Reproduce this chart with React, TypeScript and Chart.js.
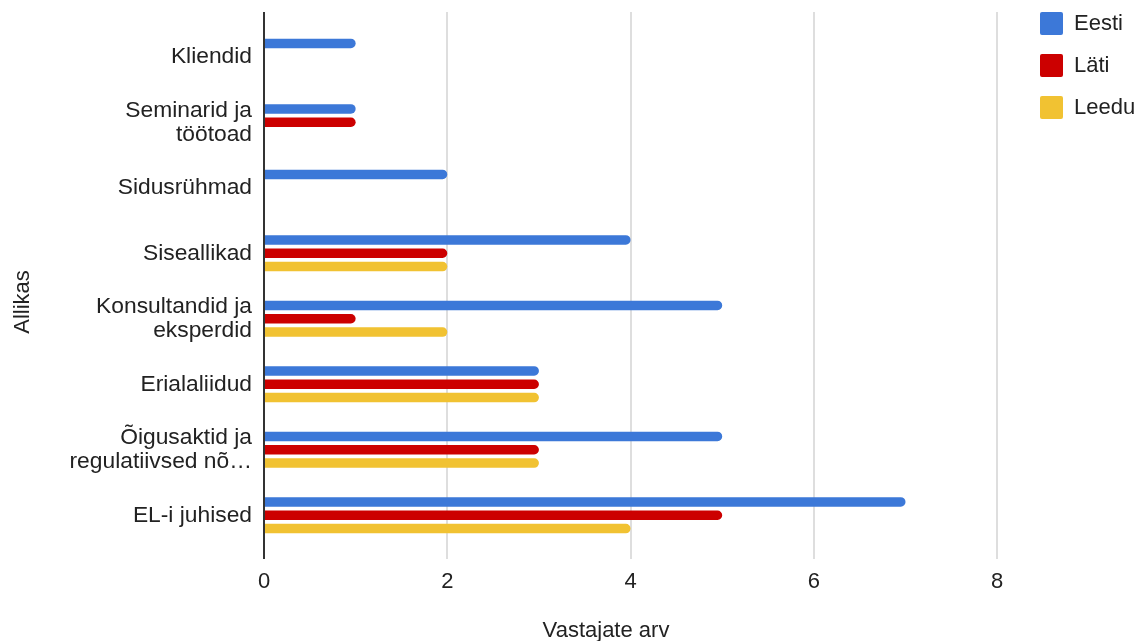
import React, { useEffect, useRef } from "react";
import { Chart, registerables } from "chart.js";

Chart.register(...registerables);

const categories: (string | string[])[] = [
  "Kliendid",
  ["Seminarid ja", "töötoad"],
  "Sidusrühmad",
  "Siseallikad",
  ["Konsultandid ja", "eksperdid"],
  "Erialaliidud",
  ["Õigusaktid ja", "regulatiivsed nõ…"],
  "EL-i juhised",
];

const seriesNames = ["Eesti", "Läti", "Leedu"];
const eesti: (number | null)[] = [1, 1, 2, 4, 5, 3, 5, 7];
const lati: (number | null)[] = [null, 1, null, 2, 1, 3, 3, 5];
const leedu: (number | null)[] = [null, null, null, 2, 2, 3, 3, 4];
const seriesColors = ["#3c78d8", "#cc0000", "#f1c232"];

const xTitle = "Vastajate arv";
const yTitle = "Allikas";
const xMin = 0;
const xMax = 8.26;
const xStep = 2;

const FONT = "'Liberation Sans', Arial, sans-serif";
const TEXT = "#222222";

const decorPlugin = {
  id: "decor",
  beforeDatasetsDraw(chart: any) {
    const { ctx, chartArea } = chart;
    const xs = chart.scales.x;
    ctx.save();
    ctx.strokeStyle = "#cccccc";
    ctx.lineWidth = 1.3;
    for (const t of xs.ticks) {
      if (t.value === 0) continue;
      const px = Math.round(xs.getPixelForValue(t.value));
      ctx.beginPath();
      ctx.moveTo(px, chartArea.top - 12);
      ctx.lineTo(px, chartArea.bottom + 11);
      ctx.stroke();
    }
    ctx.restore();
  },
  afterDatasetsDraw(chart: any) {
    const { ctx, chartArea } = chart;
    const xs = chart.scales.x;
    const px = Math.round(xs.getPixelForValue(0));
    ctx.save();
    ctx.strokeStyle = "#333333";
    ctx.lineWidth = 2;
    ctx.beginPath();
    ctx.moveTo(px, chartArea.top - 12);
    ctx.lineTo(px, chartArea.bottom + 11);
    ctx.stroke();
    ctx.restore();
  },
  afterDraw(chart: any) {
    const { ctx, chartArea } = chart;
    ctx.save();
    ctx.fillStyle = TEXT;
    ctx.font = `22px ${FONT}`;
    ctx.textAlign = "center";
    ctx.textBaseline = "alphabetic";
    ctx.fillText(xTitle, chartArea.left + 342, chartArea.bottom + 89);
    ctx.translate(29, chartArea.top + 278);
    ctx.rotate(-Math.PI / 2);
    ctx.fillText(yTitle, 0, 0);
    ctx.restore();
  },
};

export default function App() {
  const ref = useRef<HTMLCanvasElement | null>(null);

  useEffect(() => {
    if (!ref.current) return;
    const data = [eesti, lati, leedu];
    const chart = new Chart(ref.current, {
      type: "bar",
      data: {
        labels: categories,
        datasets: seriesNames.map((name, i) => ({
          label: name,
          data: data[i],
          backgroundColor: seriesColors[i],
          borderColor: seriesColors[i],
          borderWidth: 0,
          borderRadius: 5,
          categoryPercentage: 0.61,
          barPercentage: 0.71,
          xAxisID: "x",
          yAxisID: "y",
        })),
      },
      options: {
        indexAxis: "y",
        animation: false,
        responsive: false,
        layout: { padding: { top: -7, right: 8, bottom: 0, left: 0 } },
        scales: {
          x: {
            type: "linear",
            position: "bottom",
            min: xMin,
            max: xMax,
            grid: { display: false, drawTicks: false },
            border: { display: false },
            ticks: {
              stepSize: xStep,
              includeBounds: false,
              padding: 21,
              color: TEXT,
              font: { family: FONT, size: 22 },
            },
            afterFit: (s: any) => {
              s.height = 93;
            },
          },
          xTop: {
            type: "linear",
            position: "top",
            axis: "x",
            display: true,
            grid: { display: false, drawTicks: false },
            border: { display: false },
            ticks: { display: false },
            afterFit: (s: any) => {
              s.height = 31;
            },
          },
          y: {
            type: "category",
            position: "left",
            grid: { display: false, drawTicks: false },
            border: { display: false },
            ticks: {
              padding: 12,
              color: TEXT,
              font: { family: FONT, size: 22.8, lineHeight: 1.05 },
            },
            afterFit: (s: any) => {
              s.width = 264;
            },
          },
        } as any,
        plugins: {
          legend: {
            position: "right",
            align: "start",
            maxWidth: 114,
            labels: {
              boxWidth: 23,
              boxHeight: 23,
              padding: 19,
              color: TEXT,
              font: { family: FONT, size: 22 },
              useBorderRadius: true,
              borderRadius: 2,
            },
          },
          tooltip: { enabled: false },
        },
      } as any,
      plugins: [decorPlugin],
    });
    return () => chart.destroy();
  }, []);

  return (
    <div style={{ position: "fixed", left: 0, top: 0, width: 1143, height: 641, background: "#ffffff" }}>
      <canvas ref={ref} width={1143} height={641} style={{ display: "block" }} />
    </div>
  );
}
